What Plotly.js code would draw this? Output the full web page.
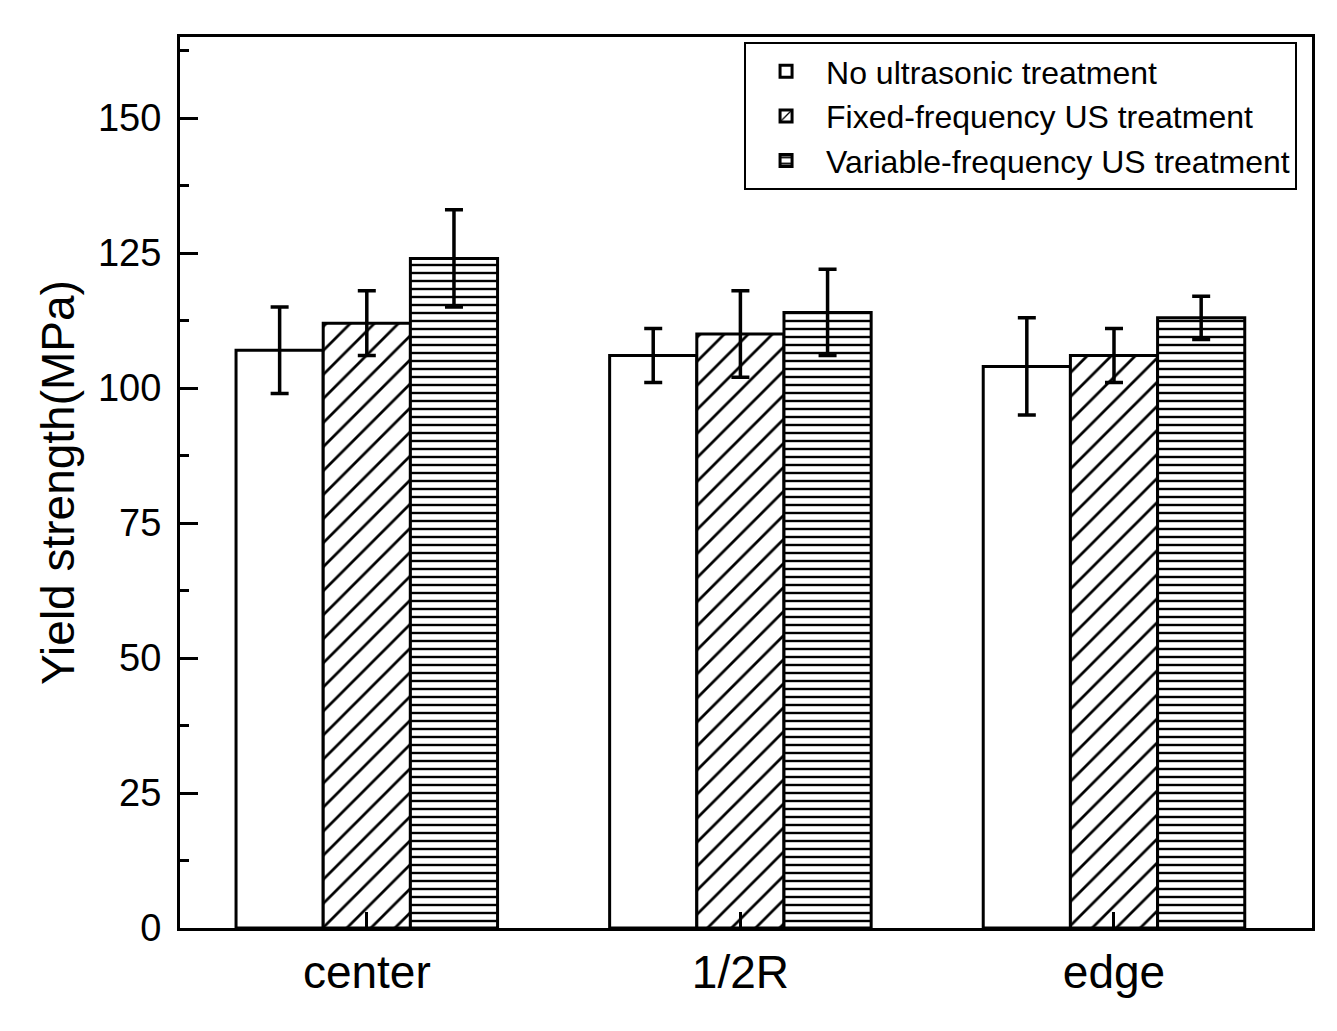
<!DOCTYPE html>
<html>
<head>
<meta charset="utf-8">
<script src="https://cdn.plot.ly/plotly-3.0.1.min.js"></script>
<style>html,body{margin:0;padding:0;background:#fff;}#chart{width:1337px;height:1031px;}</style>
</head>
<body>
<div id="chart"></div>
<script>
const categories = ['center', '1/2R', 'edge'];
const seriesNames = ['No ultrasonic treatment', 'Fixed-frequency US treatment', 'Variable-frequency US treatment'];
const noUS = [107, 106, 104];
const noUSErr = [8, 5, 9];
const fixedUS = [112, 110, 106];
const fixedUSErr = [6, 8, 5];
const varUS = [124, 114, 113];
const varUSErr = [9, 8, 4];
const yTicks = [0, 25, 50, 75, 100, 125, 150];

const patterns = ['', '/', '-'];
const patternSizes = [10, 17, 8];
const patternSolidity = [0.2, 0.16, 0.3];
const values = [noUS, fixedUS, varUS];
const errs = [noUSErr, fixedUSErr, varUSErr];

const traces = values.map((v, i) => ({
  type: 'bar',
  name: seriesNames[i],
  x: categories,
  y: v,
  marker: {
    color: 'white',
    line: {color: 'black', width: 3},
    pattern: {shape: patterns[i], fgcolor: 'black', bgcolor: 'white', size: patternSizes[i], solidity: patternSolidity[i]}
  },
  error_y: {type: 'data', array: errs[i], visible: true, color: 'black', thickness: 3.5, width: 9}
}));

const font = 'Liberation Sans, Arial, sans-serif';
const layout = {
  width: 1337, height: 1031,
  margin: {l: 180, r: 25, t: 37, b: 103},
  paper_bgcolor: 'white', plot_bgcolor: 'white',
  barmode: 'group', bargap: 0.3, bargroupgap: 0,
  showlegend: true,
  font: {family: font, color: 'black'},
  xaxis: {
    type: 'category', range: [-0.5, 2.53],
    showline: true, linecolor: 'black', linewidth: 3, mirror: true,
    ticks: 'inside', ticklen: 16, tickwidth: 3, tickcolor: 'black',
    tickfont: {size: 46, family: font}, ticklabelstandoff: 2,
    showgrid: false, zeroline: false
  },
  yaxis: {
    range: [0, 165], tickvals: yTicks,
    showline: true, linecolor: 'black', linewidth: 3, mirror: true,
    ticks: 'inside', ticklen: 18, tickwidth: 3, tickcolor: 'black',
    minor: {dtick: 12.5, ticks: 'inside', ticklen: 9, tickwidth: 3, tickcolor: 'black', showgrid: false},
    tickfont: {size: 38, family: font}, ticklabelstandoff: 8,
    showgrid: false, zeroline: false,
    title: {text: 'Yield strength(MPa)', font: {size: 46, family: font}, standoff: 9}
  },
  legend: {
    x: 0.9868, xanchor: 'right', y: 0.9944, yanchor: 'top',
    bordercolor: 'black', borderwidth: 2, bgcolor: 'white',
    font: {size: 32, family: font}, itemwidth: 70, tracegroupgap: 0
  }
};

Plotly.newPlot('chart', traces, layout, {displayModeBar: false});
</script>
</body>
</html>
